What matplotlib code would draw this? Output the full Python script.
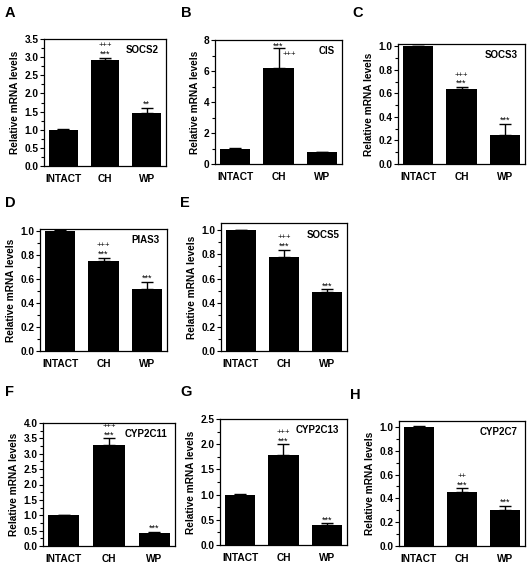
import matplotlib.pyplot as plt
import numpy as np
from matplotlib.ticker import MultipleLocator

plt.rcParams['font.family'] = ['Liberation Sans', 'DejaVu Sans']
plt.rcParams['font.weight'] = 'bold'

groups = ['INTACT', 'CH', 'WP']

# mean and error (upper only) per gene
socs2_mean = [1.0, 2.92, 1.45]
socs2_err = [0.02, 0.07, 0.15]
cis_mean = [1.0, 6.2, 0.75]
cis_err = [0.02, 1.3, 0.05]
socs3_mean = [1.0, 0.64, 0.25]
socs3_err = [0.005, 0.015, 0.09]
pias3_mean = [1.0, 0.75, 0.52]
pias3_err = [0.01, 0.03, 0.06]
socs5_mean = [1.0, 0.78, 0.49]
socs5_err = [0.005, 0.06, 0.02]
cyp2c11_mean = [1.0, 3.27, 0.43]
cyp2c11_err = [0.02, 0.23, 0.04]
cyp2c13_mean = [1.0, 1.78, 0.39]
cyp2c13_err = [0.02, 0.22, 0.04]
cyp2c7_mean = [1.0, 0.45, 0.30]
cyp2c7_err = [0.01, 0.035, 0.04]

# significance marks: stars (vs INTACT) and pluses (second line above)
socs2_star = ['', '***', '**']
socs2_plus = ['', '+++', '']
cis_star = ['', '***', '']
cis_plus = ['', '+++', '']
socs3_star = ['', '***', '***']
socs3_plus = ['', '+++', '']
pias3_star = ['', '***', '***']
pias3_plus = ['', '+++', '']
socs5_star = ['', '***', '***']
socs5_plus = ['', '+++', '']
cyp2c11_star = ['', '***', '***']
cyp2c11_plus = ['', '+++', '']
cyp2c13_star = ['', '***', '***']
cyp2c13_plus = ['', '+++', '']
cyp2c7_star = ['', '***', '***']
cyp2c7_plus = ['', '++', '']

W, H = 531, 567
fig = plt.figure(figsize=(W / 100, H / 100), dpi=100)

# letter, gene, mean, err, stars, pluses, ymax, major, minor, axes box px (l, t, r, b), letter pos px
panels = [
    ('A', 'SOCS2', socs2_mean, socs2_err, socs2_star, socs2_plus, 3.5, 0.5, 0.25, (44, 39, 166, 166), (5, 13)),
    ('B', 'CIS', cis_mean, cis_err, cis_star, cis_plus, 8, 2, 1, (215, 40, 342, 164), (181, 13)),
    ('C', 'SOCS3', socs3_mean, socs3_err, socs3_star, socs3_plus, 1.02, 0.2, 0.1, (398, 44, 525, 164), (352, 13)),
    ('D', 'PIAS3', pias3_mean, pias3_err, pias3_star, pias3_plus, 1.02, 0.2, 0.1, (40, 229, 167, 351), (5, 203)),
    ('E', 'SOCS5', socs5_mean, socs5_err, socs5_star, socs5_plus, 1.06, 0.2, 0.1, (221, 223, 347, 351), (180, 203)),
    ('F', 'CYP2C11', cyp2c11_mean, cyp2c11_err, cyp2c11_star, cyp2c11_plus, 4.0, 0.5, 0.25, (43, 423, 175, 546), (5, 392)),
    ('G', 'CYP2C13', cyp2c13_mean, cyp2c13_err, cyp2c13_star, cyp2c13_plus, 2.5, 0.5, 0.25, (220, 419, 347, 545), (180, 392)),
    ('H', 'CYP2C7', cyp2c7_mean, cyp2c7_err, cyp2c7_star, cyp2c7_plus, 1.05, 0.2, 0.1, (399, 421, 525, 546), (350, 395)),
]

x = np.arange(len(groups))
for letter, gene, mean, err, star, plus, ymax, major, minor, box, lpos in panels:
    l, t, r, b = box
    ax = fig.add_axes([l / W, 1 - b / H, (r - l) / W, (b - t) / H])
    ax.bar(x, mean, width=0.69, color='black', zorder=2)
    ax.errorbar(x, mean, yerr=[np.zeros(3), err], fmt='none', ecolor='black',
                elinewidth=1.0, capsize=4, capthick=1.0, zorder=1)
    ax.set_xlim(-0.46, 2.46)
    ax.set_ylim(0, ymax)
    ax.yaxis.set_major_locator(MultipleLocator(major))
    ax.yaxis.set_minor_locator(MultipleLocator(minor))
    if major < 1:
        ax.yaxis.set_major_formatter(plt.FormatStrFormatter('%.1f'))
    ax.set_xticks(x)
    ax.set_xticklabels(groups, fontsize=7.3, fontweight='bold')
    ax.tick_params(axis='x', length=0, pad=6)
    ax.tick_params(axis='y', which='major', length=3, width=0.8, labelsize=7.3, pad=1)
    ax.tick_params(axis='y', which='minor', length=2, width=0.8)
    for s in ax.spines.values():
        s.set_linewidth(0.9)
    ax.set_ylabel('Relative mRNA levels', fontsize=7.3, fontweight='bold', labelpad=3)
    ax.text(0.94, 0.91, gene, transform=ax.transAxes, ha='right', va='center',
            fontsize=7, fontweight='bold')
    for i in range(3):
        top = mean[i] + err[i]
        if letter == 'B':
            if star[i]:
                ax.annotate(star[i], (x[i], top), xytext=(0, -0.8), textcoords='offset points',
                            ha='center', va='baseline', fontsize=6.5, fontweight='normal')
            if plus[i]:
                ax.annotate(plus[i], (x[i], top), xytext=(2.8, -4.6), textcoords='offset points',
                            ha='left', va='center', fontsize=5.6, fontweight='normal')
            continue
        if star[i]:
            ax.annotate(star[i], (x[i], top), xytext=(0, 0.6), textcoords='offset points',
                        ha='center', va='baseline', fontsize=6.5, fontweight='normal')
        if plus[i]:
            ax.annotate(plus[i], (x[i], top), xytext=(0, 7.4), textcoords='offset points',
                        ha='center', va='baseline', fontsize=5.6, fontweight='normal')
    fig.text(lpos[0] / W, 1 - lpos[1] / H, letter, fontsize=10.5, fontweight='bold',
             ha='left', va='center')

fig.savefig('out.png', dpi=100)
